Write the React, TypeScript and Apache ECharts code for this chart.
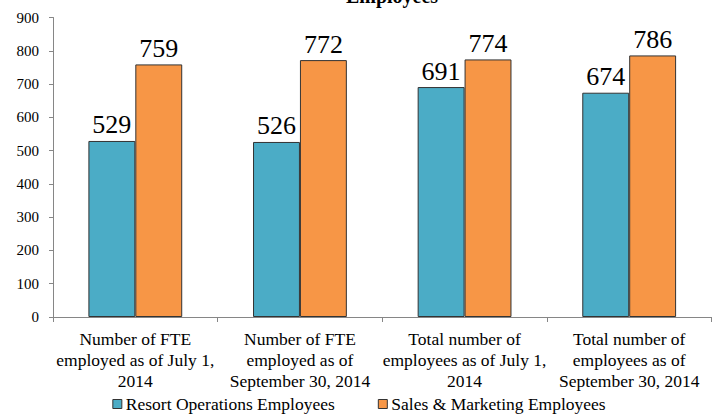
import React, { useEffect, useRef } from "react";
import * as echarts from "echarts";

const categories = [
  "Number of FTE\nemployed as of July 1,\n2014",
  "Number of FTE\nemployed as of\nSeptember 30, 2014",
  "Total number of\nemployees as of July 1,\n2014",
  "Total number of\nemployees as of\nSeptember 30, 2014",
];
const resortOps = [529, 526, 691, 674];
const salesMarketing = [759, 772, 774, 786];
const seriesNames = ["Resort Operations Employees", "Sales & Marketing Employees"];
const chartTitle = "Employees";

const FONT = "Liberation Serif";

export default function App() {
  const ref = useRef<HTMLDivElement>(null);
  useEffect(() => {
    const chart = echarts.init(ref.current!, null, { renderer: "svg" });
    const labelStyle = {
      show: true,
      position: "top" as const,
      fontFamily: FONT,
      fontSize: 26,
      color: "#000",
      distance: 3,
    };
    chart.setOption({
      animation: false,
      backgroundColor: "#fff",
      textStyle: { fontFamily: FONT },
      graphic: [
        {
          type: "text",
          x: 392,
          y: 6,
          style: {
            text: chartTitle,
            fontFamily: FONT,
            fontWeight: "bold",
            fontSize: 20,
            fill: "#000",
            align: "center",
            verticalAlign: "bottom",
          },
        },
      ],
      grid: { left: 53, right: 6.5, top: 17.5, bottom: 97 },
      legend: {
        top: 390,
        left: "center",
        itemWidth: 9,
        itemHeight: 9,
        itemGap: 43,
        icon: "rect",
        textStyle: { fontFamily: FONT, fontSize: 17.5, color: "#000", padding: [0, 0, 0, -1] },
        data: seriesNames.map((n) => ({ name: n, itemStyle: { borderColor: "#333", borderWidth: 1 } })),
      },
      xAxis: {
        type: "category",
        data: categories,
        axisLine: { lineStyle: { color: "#868686" } },
        axisTick: { show: true, length: 5, lineStyle: { color: "#868686" } },
        axisLabel: {
          fontFamily: FONT,
          fontSize: 17.5,
          color: "#000",
          lineHeight: 21,
          margin: 11,
          interval: 0,
        },
      },
      yAxis: {
        type: "value",
        min: 0,
        max: 900,
        interval: 100,
        axisLine: { show: true, lineStyle: { color: "#868686" } },
        axisTick: { show: true, length: 4, lineStyle: { color: "#868686" } },
        splitLine: { show: false },
        axisLabel: { fontFamily: FONT, fontSize: 15, color: "#000", margin: 14 },
      },
      series: [
        {
          name: seriesNames[0],
          type: "bar",
          data: resortOps,
          barGap: "0%",
          barCategoryGap: "43%",
          itemStyle: { color: "#4BACC6", borderColor: "#333", borderWidth: 1 },
          label: labelStyle,
        },
        {
          name: seriesNames[1],
          type: "bar",
          data: salesMarketing,
          itemStyle: { color: "#F79646", borderColor: "#333", borderWidth: 1 },
          label: labelStyle,
        },
      ],
    });
    return () => chart.dispose();
  }, []);
  return (
    <div
      ref={ref}
      style={{ position: "absolute", left: 0, top: 0, width: 718, height: 414 }}
    />
  );
}
